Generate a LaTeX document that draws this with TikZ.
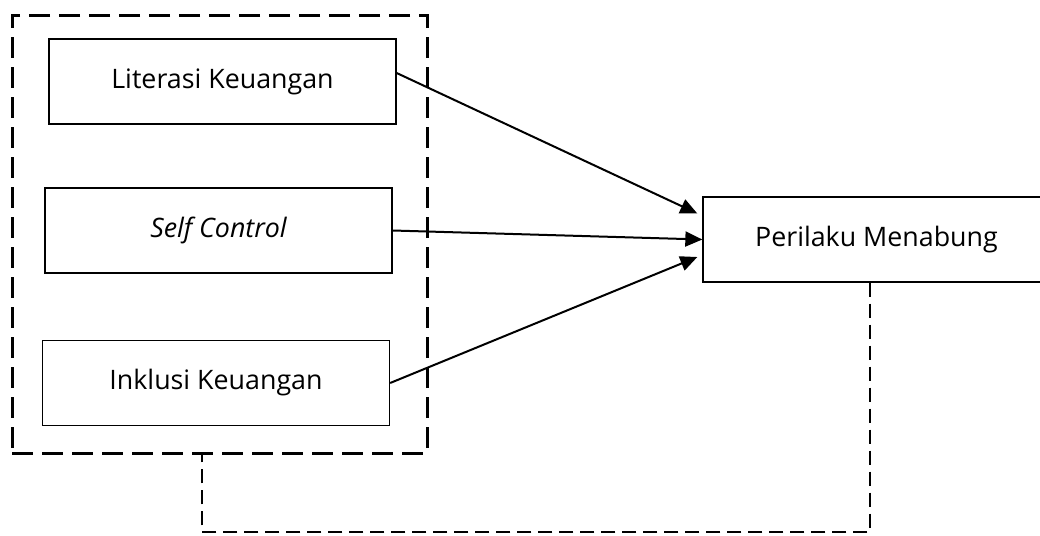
\documentclass[tikz,border=0pt]{standalone}
\usepackage{fontspec}
\setmainfont{Open Sans}
\usepackage{xcolor}
\usepackage{tikz}
\usetikzlibrary{positioning, arrows.meta}

\begin{document}
\begin{tikzpicture}[
  x=0.5pt, y=-0.5pt,
  varbox/.style={draw, line width=0.65pt, minimum width=173.5pt, minimum height=42.5pt, inner sep=0pt, font=\fontsize{13.4}{16}\selectfont, align=center},
  groupbox/.style={draw, line width=1.5pt, dash pattern=on 10.5pt off 4.5pt, minimum width=207.5pt, minimum height=219pt, inner sep=0pt},
  arrow/.style={-{Triangle[length=8.5pt, width=7.5pt]}, line width=1pt},
  feedback/.style={line width=0.9pt, dash pattern=on 7pt off 3.5pt}
]

  \useasboundingbox (0,0) rectangle (1040,536);

  % Independent variables
  \node[groupbox] (grup) at (219.5,234) {};
  \node[varbox] (literasi) at (222.5,81.5) {Literasi Keuangan};
  \node[varbox] (selfctrl) at (218.5,230.5) {\itshape Self Control};
  \node[varbox] (inklusi) at (216,383) {Inklusi Keuangan};

  % Dependent variable
  \node[varbox] (perilaku) at (876.5,239.5) {Perilaku Menabung};

  % Arrows
  \draw[arrow] ([yshift=4.25pt]literasi.east) -- ([xshift=-2.5pt, yshift=13pt]perilaku.west);
  \draw[arrow] (selfctrl.east) -- (perilaku.west);
  \draw[arrow] (inklusi.east) -- ([xshift=-2.5pt, yshift=-8.75pt]perilaku.west);

  % Feedback line
  \draw[feedback] (870,0 |- perilaku.south) -- (870,532) -| (202,0 |- grup.south);

\end{tikzpicture}
\end{document}
